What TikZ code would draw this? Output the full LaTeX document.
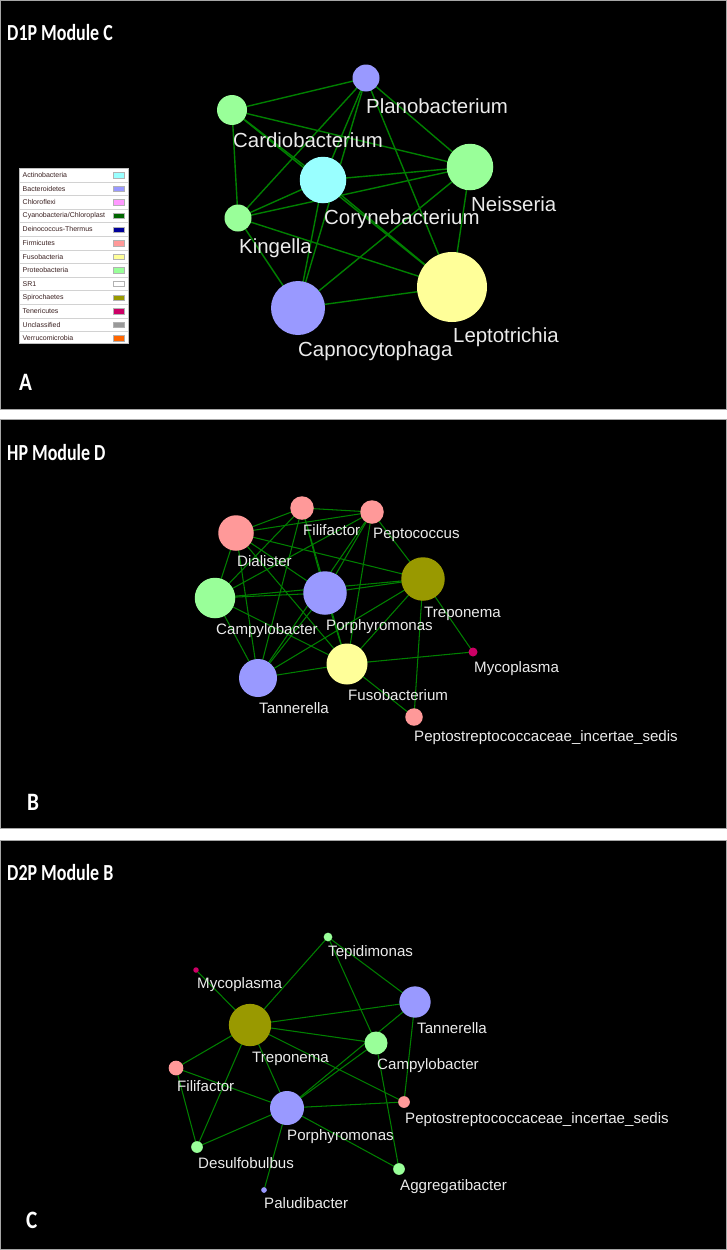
\documentclass[tikz,border=0pt]{standalone}
\usepackage{graphicx}
\usepackage{fontspec}
\setmainfont{Liberation Sans}
\newfontfamily\titlefont{Carlito}
\pgfdeclarelayer{back}
\pgfdeclarelayer{edges}
\pgfsetlayers{back,edges,main}
\definecolor{cAct}{HTML}{99FFFF}
\definecolor{cBac}{HTML}{9999FF}
\definecolor{cChl}{HTML}{FF99FF}
\definecolor{cCya}{HTML}{006600}
\definecolor{cDei}{HTML}{000099}
\definecolor{cFir}{HTML}{FF9999}
\definecolor{cFus}{HTML}{FFFF99}
\definecolor{cPro}{HTML}{99FF99}
\definecolor{cSRo}{HTML}{FFFFFF}
\definecolor{cSpi}{HTML}{999900}
\definecolor{cTen}{HTML}{CC0066}
\definecolor{cUnc}{HTML}{999999}
\definecolor{cVer}{HTML}{FF6600}
\definecolor{edgec}{HTML}{008000}
\definecolor{labelc}{HTML}{EBEBEB}
\definecolor{legtext}{HTML}{3A2020}
\tikzset{
  nd/.style={circle, inner sep=0pt, draw=none},
  lblA/.style={anchor=base west, inner sep=0pt, text=labelc, font=\fontsize{20.4}{22}\selectfont},
  lblB/.style={anchor=base west, inner sep=0pt, text=labelc, font=\fontsize{15.1}{17}\selectfont},
  ttl/.style={anchor=base west, inner sep=0pt, text=white, font=\titlefont\bfseries\fontsize{23}{26}\selectfont},
  letter/.style={anchor=base west, inner sep=0pt, text=white, font=\titlefont\bfseries\fontsize{25}{28}\selectfont},
  edA/.style={draw=edgec, line width=1.4},
  edB/.style={draw=edgec, line width=1.05},
  panel/.style={fill=black, draw=gray!70, line width=0.8},
  legtxt/.style={anchor=west, inner sep=0pt, text=legtext, font=\fontsize{7}{8}\selectfont},
  sw/.style={inner sep=0pt, minimum width=11.5, minimum height=5.5, draw=gray!60, line width=0.3},
}
\begin{document}
\begin{tikzpicture}[x=1pt,y=-1pt]
\useasboundingbox (0,0) rectangle (727,1250);
\begin{pgfonlayer}{back}
  \fill[white] (0,0) rectangle (727,1250);
  \path[panel] (0.4,0.4) rectangle (726.6,409);
  \path[panel] (0.4,419) rectangle (726.6,828);
  \path[panel] (0.4,840) rectangle (726.6,1249.6);
\end{pgfonlayer}

% ---------------- Panel A ----------------
\node[ttl] (tA) at (7,40) {\scalebox{0.78}[1]{D1P Module C}};
\node[letter] (lA) at (19,390) {\scalebox{0.85}[1]{A}};

\node[nd, minimum size=27, fill=cBac] (plano) at (366,78) {};
\node[nd, minimum size=30, fill=cPro] (cardio) at (232,110) {};
\node[nd, minimum size=46.5, fill=cAct] (coryne) at (323,180) {};
\node[nd, minimum size=27, fill=cPro] (king) at (238,218) {};
\node[nd, minimum size=54, fill=cBac] (capno) at (298,308) {};
\node[nd, minimum size=70, fill=cFus] (lepto) at (452,287) {};
\node[nd, minimum size=46.5, fill=cPro] (neis) at (470,167) {};

\node[lblA] (planoL) at (366,113) {Planobacterium};
\node[lblA] (cardioL) at (233,147) {Cardiobacterium};
\node[lblA] (coryneL) at (324,224) {Corynebacterium};
\node[lblA] (kingL) at (239,253) {Kingella};
\node[lblA] (capnoL) at (298,356) {Capnocytophaga};
\node[lblA] (neisL) at (471,211) {Neisseria};
\node[lblA] (leptoL) at (453,342) {Leptotrichia};

\begin{pgfonlayer}{edges}
  \foreach \a/\b in {plano/cardio, plano/king, plano/coryne, plano/capno, plano/lepto, plano/neis,
    cardio/king, cardio/coryne, cardio/lepto, cardio/neis, coryne/neis, coryne/king, coryne/capno,
    coryne/lepto, king/neis, king/lepto, king/capno, capno/lepto, capno/neis, neis/lepto}
    \draw[edA] (\a.center) -- (\b.center);
\end{pgfonlayer}

% legend
\node[draw=gray!50, fill=white, line width=0.4, minimum width=109, minimum height=175, inner sep=0pt, anchor=north west] (legend) at (19,168) {};
\foreach \i/\name/\col in {0/Actinobacteria/cAct, 1/Bacteroidetes/cBac, 2/Chloroflexi/cChl,
   3/Cyanobacteria\slash Chloroplast/cCya, 4/Deinococcus-Thermus/cDei, 5/Firmicutes/cFir,
   6/Fusobacteria/cFus, 7/Proteobacteria/cPro, 8/SR1/cSRo, 9/Spirochaetes/cSpi,
   10/Tenericutes/cTen, 11/Unclassified/cUnc, 12/Verrucomicrobia/cVer}{
  \node[legtxt] (legt\i) at (22.5,175+13.6*\i) {\name};
  \node[sw, fill=\col] (legs\i) at (118.5,175+13.6*\i) {};
}
\foreach \i in {0,...,11}{
  \draw[gray!35, line width=0.4] (19.5,181.8+13.6*\i) -- (127.5,181.8+13.6*\i);
}

% ---------------- Panel B ----------------
\node[ttl] (tB) at (7,460) {\scalebox{0.78}[1]{HP Module D}};
\node[letter] (lB) at (27,810) {\scalebox{0.85}[1]{B}};

\node[nd, minimum size=23.5, fill=cFir] (bfil) at (302,508) {};
\node[nd, minimum size=23.5, fill=cFir] (bpep) at (372,512) {};
\node[nd, minimum size=35.5, fill=cFir] (bdia) at (236,533) {};
\node[nd, minimum size=40.5, fill=cPro] (bcam) at (215,598) {};
\node[nd, minimum size=43.5, fill=cBac] (bpor) at (325,593) {};
\node[nd, minimum size=43.5, fill=cSpi] (btre) at (423,579) {};
\node[nd, minimum size=38, fill=cBac] (btan) at (258,678) {};
\node[nd, minimum size=41, fill=cFus] (bfus) at (347,664) {};
\node[nd, minimum size=9, fill=cTen] (bmyc) at (473,652) {};
\node[nd, minimum size=17.5, fill=cFir] (bpst) at (414,717) {};

\node[lblB] (bfilL) at (303,535) {Filifactor};
\node[lblB] (bpepL) at (373,538) {Peptococcus};
\node[lblB] (bdiaL) at (237,566) {Dialister};
\node[lblB] (bcamL) at (216,634) {Campylobacter};
\node[lblB] (bporL) at (326,630) {Porphyromonas};
\node[lblB] (btreL) at (424,617) {Treponema};
\node[lblB] (btanL) at (259,713) {Tannerella};
\node[lblB] (bfusL) at (348,700) {Fusobacterium};
\node[lblB] (bmycL) at (474,672) {Mycoplasma};
\node[lblB] (bpstL) at (414,741) {Peptostreptococcaceae\_incertae\_sedis};

\begin{pgfonlayer}{edges}
  \foreach \a/\b in {bfil/bpep, bdia/bfil, bdia/bpep, bfil/bcam, bfil/btan, bfil/bpor, bfil/bfus,
    bpep/btre, bpep/bcam, bpep/bpor, bpep/btan, bpep/bfus, bdia/bcam, bdia/btan, bdia/bpor,
    bdia/bfus, bdia/btre, bcam/bpor, bcam/btre, bcam/btan, bcam/bfus, bpor/btre, bpor/btan,
    bpor/bfus, btre/bfus, btre/btan, btre/bmyc, btre/bpst, bfus/bmyc, bfus/bpst, btan/bfus}
    \draw[edB] (\a.center) -- (\b.center);
\end{pgfonlayer}

% ---------------- Panel C ----------------
\node[ttl] (tC) at (7,880) {\scalebox{0.78}[1]{D2P Module B}};
\node[letter] (lC) at (26,1228) {\scalebox{0.85}[1]{C}};

\node[nd, minimum size=8.7, fill=cPro] (ctep) at (328,937) {};
\node[nd, minimum size=5.5, fill=cTen] (cmyc) at (196,970) {};
\node[nd, minimum size=42.3, fill=cSpi] (ctre) at (250,1025) {};
\node[nd, minimum size=14.7, fill=cFir] (cfil) at (176,1068) {};
\node[nd, minimum size=34, fill=cBac] (cpor) at (287,1108) {};
\node[nd, minimum size=11.7, fill=cPro] (cdes) at (197,1147) {};
\node[nd, minimum size=5.7, fill=cBac] (cpal) at (264,1190) {};
\node[nd, minimum size=31.3, fill=cBac] (ctan) at (415,1002) {};
\node[nd, minimum size=23, fill=cPro] (ccam) at (376,1043) {};
\node[nd, minimum size=11.7, fill=cFir] (cpst) at (404,1102) {};
\node[nd, minimum size=11.7, fill=cPro] (cagg) at (399,1169) {};

\node[lblB] (ctepL) at (328,956) {Tepidimonas};
\node[lblB] (cmycL) at (197,988) {Mycoplasma};
\node[lblB] (ctreL) at (252,1062) {Treponema};
\node[lblB] (cfilL) at (177,1091) {Filifactor};
\node[lblB] (cporL) at (287,1140) {Porphyromonas};
\node[lblB] (cdesL) at (198,1168) {Desulfobulbus};
\node[lblB] (cpalL) at (264,1208) {Paludibacter};
\node[lblB] (ctanL) at (417,1033) {Tannerella};
\node[lblB] (ccamL) at (377,1069) {Campylobacter};
\node[lblB] (cpstL) at (405,1123) {Peptostreptococcaceae\_incertae\_sedis};
\node[lblB] (caggL) at (400,1190) {Aggregatibacter};

\begin{pgfonlayer}{edges}
  \foreach \a/\b in {cmyc/ctre, ctep/ctre, ctep/ctan, ctep/ccam, ctre/ctan, ctre/ccam, ctre/cpst,
    ctre/cfil, ctre/cdes, ctre/cpor, cfil/cpor, cfil/cdes, cdes/cpor, cpor/cpal, cpor/cagg,
    cpor/cpst, cpor/ccam, cpor/ctan, ctan/cpst, ccam/cagg}
    \draw[edB] (\a.center) -- (\b.center);
\end{pgfonlayer}
\end{tikzpicture}
\end{document}
